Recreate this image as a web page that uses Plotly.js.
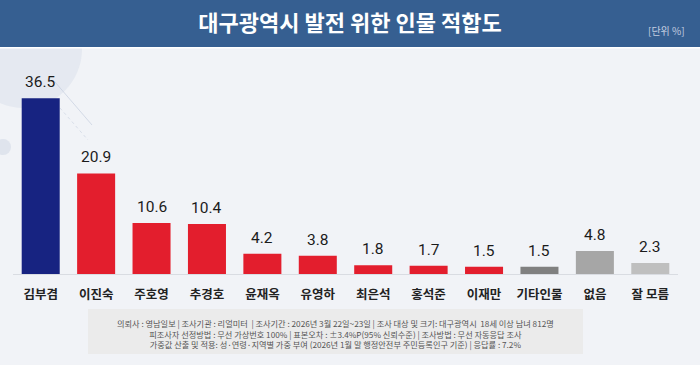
<!DOCTYPE html>
<html>
<head>
<meta charset="utf-8">
<script src="https://cdn.plot.ly/plotly-3.0.1.min.js"></script>
<style>
html,body{margin:0;padding:0;background:#f1f3f7;}
#chart{width:700px;height:365px;}
</style>
</head>
<body>
<div id="chart"></div>
<script>
// ---- data ----
const categories = ["김부겸","이진숙","주호영","추경호","윤재옥","유영하","최은석","홍석준","이재만","기타인물","없음","잘 모름"];
const values = [36.5, 20.9, 10.6, 10.4, 4.2, 3.8, 1.8, 1.7, 1.5, 1.5, 4.8, 2.3];
const barColors = ["#172381","#e31e2d","#e31e2d","#e31e2d","#e31e2d","#e31e2d","#e31e2d","#e31e2d","#e31e2d","#808080","#a6a6a6","#bfbfbf"];
const titleText = "대구광역시 발전 위한 인물 적합도";
const unitText = "[단위 %]";
const noteLines = [
  "의뢰사 : 영남일보 | 조사기관 : 리얼미터  | 조사기간 : 2026년 3월 22일~23일 | 조사 대상 및 크기: 대구광역시  18세 이상 남녀 812명",
  "피조사자 선정방법 : 무선 가상번호 100% | 표본오차 : ±3.4%P(95% 신뢰수준) | 조사방법 : 무선 자동응답 조사",
  "가중값 산출 및 적용: 성·연령·지역별 가중 부여 (2026년 1월 말 행정안전부 주민등록인구 기준) | 응답률 : 7.2%"
];

// ---- layout geometry (pixels) ----
const W = 700, H = 365;
const mL = 13, mR = 22, mT = 60, mB = 91;
const plotW = W - mL - mR, plotH = H - mT - mB;
const px = x => (x - mL) / plotW;          // pixel x -> paper x
const py = y => (H - mB - y) / plotH;      // pixel y -> paper y

const KR = "'Noto Sans CJK KR', 'Noto Sans', sans-serif";

const shapes = [
  // decorative faint circle top-left
  {type:"circle", xref:"paper", yref:"paper", x0:px(-35), x1:px(82), y0:py(108), y1:py(-10),
   fillcolor:"rgba(205,214,228,0.35)", line:{width:0}, layer:"below"},
  {type:"circle", xref:"paper", yref:"paper", x0:px(-5), x1:px(11), y0:py(155), y1:py(139),
   fillcolor:"rgba(205,214,228,0.5)", line:{width:0}, layer:"below"},
  {type:"line", xref:"paper", yref:"paper", x0:px(55), x1:px(92), y0:py(82), y1:py(125),
   line:{color:"rgba(190,200,218,0.6)", width:1}, layer:"below"},
  {type:"line", xref:"paper", yref:"paper", x0:px(60), x1:px(88), y0:py(108), y1:py(140),
   line:{color:"rgba(190,200,218,0.5)", width:1, dash:"dot"}, layer:"below"},
  // header band
  {type:"rect", xref:"paper", yref:"paper", x0:px(0), x1:px(W), y0:py(47), y1:py(0),
   fillcolor:"#365f91", line:{width:0}, layer:"below"},
  {type:"rect", xref:"paper", yref:"paper", x0:px(0), x1:px(W), y0:py(48.5), y1:py(47),
   fillcolor:"#ffffff", line:{width:0}, layer:"below"},
  // footnote box
  {type:"rect", xref:"paper", yref:"paper", x0:px(88), x1:px(583), y0:py(354), y1:py(309),
   fillcolor:"#ebebeb", line:{width:0}, layer:"below"}
];

const annotations = [];
categories.forEach((c, i) => {
  annotations.push({
    x: c, y: values[i], xref:"x", yref:"y", text: values[i].toFixed(1),
    showarrow:false, yanchor:"middle", yshift:16,
    font:{family:"Roboto, 'Noto Sans', sans-serif", size:15.5, color:"#1b1b1b"}
  });
});
annotations.push({
  xref:"paper", yref:"paper", x:px(666), y:py(31), text:unitText, showarrow:false,
  xanchor:"center", yanchor:"middle", font:{family:KR, size:10, color:"#c3cee0"}
});
annotations.push({
  xref:"paper", yref:"paper", x:px(335.5), y:py(333.5), text:noteLines.join("<br>"), showarrow:false,
  xanchor:"center", yanchor:"middle", align:"center",
  font:{family:KR, size:8.2, color:"#555555"}
});

const trace = {
  type:"bar", x:categories, y:values,
  marker:{color:barColors, line:{width:0}},
  hoverinfo:"none", cliponaxis:false
};

const layout = {
  width:W, height:H,
  margin:{l:mL, r:mR, t:mT, b:mB, pad:0},
  paper_bgcolor:"#f1f3f7", plot_bgcolor:"rgba(0,0,0,0)",
  showlegend:false, bargap:0.314,
  title:{text:titleText, xref:"container", yref:"container", x:0.5, y:1-23/H,
         xanchor:"center", yanchor:"middle",
         font:{family:KR, size:22, color:"#ffffff", weight:700}},
  xaxis:{type:"category", range:[-0.5, 11.5], showline:true, linecolor:"#d9dce2", linewidth:1,
         ticks:"", showgrid:false, zeroline:false, ticklabelstandoff:9,
         tickfont:{family:KR, size:12.5, color:"#222222", weight:700}, fixedrange:true},
  yaxis:{range:[0, plotH/4.814], visible:false, showgrid:false, zeroline:false, fixedrange:true},
  shapes:shapes, annotations:annotations
};

Plotly.newPlot("chart", [trace], layout, {displayModeBar:false, staticPlot:true});
</script>
</body>
</html>
